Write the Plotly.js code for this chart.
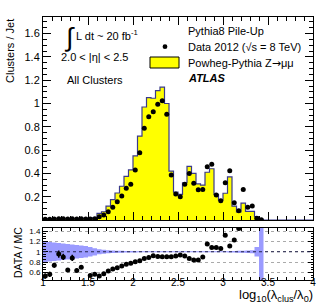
<!DOCTYPE html>
<html><head><meta charset="utf-8">
<script src="https://cdn.plot.ly/plotly-3.0.1.min.js"></script>
<style>html,body{margin:0;padding:0;background:#fff}</style>
</head><body>
<div id="plot" style="width:329px;height:305px"></div>
<script>
// Bin centres of log10(lambda_clus/lambda_0), bin width 0.05
const binCenters = [1.025,1.075,1.125,1.175,1.225,1.275,1.325,1.375,1.425,1.475,
1.525,1.575,1.625,1.675,1.725,1.775,1.825,1.875,1.925,1.975,
2.025,2.075,2.125,2.175,2.225,2.275,2.325,2.375,2.425,2.475,
2.525,2.575,2.625,2.675,2.725,2.775,2.825,2.875,2.925,2.975,
3.025,3.075,3.125,3.175,3.225,3.275,3.325,3.375,3.425,3.475,
3.525,3.575,3.625,3.675,3.725,3.775,3.825,3.875,3.925,3.975];
const halfWidth = 0.025;

// Powheg-Pythia Z->mumu (MC), clusters / jet
const mcValues = [0.012,0.012,0.012,0.012,0.012,0.013,0.013,0.013,0.014,0.015,
0.016,0.018,0.057,0.071,0.12,0.175,0.232,0.29,0.375,0.43,
0.55,0.72,0.97,1.05,1.045,1.11,1.14,1.0,0.42,0.24,
0.22,0.32,0.46,0.40,0.31,0.30,0.41,0.44,0.22,0.17,
0.23,0.37,0.12,0.07,0.145,0.075,0.075,0.03,0.005,0,
0,0,0,0,0,0,0,0,0,0];

// Data 2012
const dataValues = [0.006,0.007,0.009,0.011,0.011,0.008,0.011,0.008,0.01,0.008,
0.009,0.01,0.028,0.043,0.071,0.109,0.157,0.206,0.272,0.306,
0.43,0.578,0.787,0.887,0.93,0.993,1.024,0.907,0.386,0.223,
0.2,0.306,0.40,0.315,0.26,0.263,0.458,0.478,0.215,0.165,
0.32,0.423,0.149,0.08,0.263,0.109,0.12,0.015,0.003,null,
null,null,null,null,null,null,null,null,null,null];

// DATA / MC ratio
const ratioValues = [0.53,0.565,0.74,0.955,0.9,0.65,0.88,0.64,0.70,null,
0.54,0.565,0.53,0.577,0.63,0.667,0.69,0.725,0.757,0.777,
0.808,0.827,0.872,0.89,0.923,0.91,0.904,0.904,0.904,0.917,
0.936,0.917,0.872,0.84,0.84,0.9,1.148,1.084,1.08,1.065,
1.32,1.11,1.225,1.45,null,null,null,null,null,null,
null,null,null,null,null,null,null,null,null,null];
const ratioErrors = [0.05,0.05,0.05,0.07,0.06,0.03,0.06,0.03,0.03,0,
0.01,0.01,0.01,0.01,0.01,0.01,0.01,0.01,0.01,0.01,
0.01,0.01,0.01,0.01,0.01,0.01,0.01,0.01,0.01,0.01,
0.01,0.01,0.01,0.01,0.01,0.01,0.01,0.01,0.01,0.01,
0.01,0.01,0.01,0.01,0,0,0,0,0,0,
0,0,0,0,0,0,0,0,0,0];
// MC relative uncertainty (band half-width around 1)
const mcRelErr = [0.2,0.19,0.18,0.17,0.16,0.15,0.14,0.13,0.12,0.11,
0.09,0.07,0.05,0.04,0.03,0.025,0.02,0.018,0.015,0.013,
0.012,0.01,0.01,0.01,0.01,0.01,0.01,0.01,0.01,0.01,
0.01,0.01,0.01,0.01,0.01,0.01,0.01,0.01,0.01,0.01,
0.01,0.012,0.015,0.02,0.02,0.025,0.03,0.09,1.5,null,
null,null,null,null,null,null,null,null,null,null];

const xTickVals = [1,1.5,2,2.5,3,3.5,4];
const xTickText = ['1','1.5','2','2.5','3','3.5','4'];
const yTickVals = [0.2,0.4,0.6,0.8,1,1.2,1.4,1.6];
const yTickText = ['0.2','0.4','0.6','0.8','1','1.2','1.4','1.6'];
const rTickVals = [0.6,0.8,1,1.2,1.4];
const rTickText = ['0.6','0.8','1','1.2','1.4'];

// step helpers
function stepX(n){const e=[];for(let i=0;i<n;i++)e.push(binCenters[i]-halfWidth);e.push(binCenters[n-1]+halfWidth);return e;}
function stepY(arr,n){const y=arr.slice(0,n);y.push(arr[n-1]);return y;}

const nAll = binCenters.length;
const histX = stepX(nAll), histY = stepY(mcValues,nAll);
let nBand = 0; for(let i=0;i<nAll;i++){ if(mcRelErr[i]!==null) nBand=i+1; }
const bandX = stepX(nBand);
const bandLo = stepY(mcRelErr.map(e=>e===null?null:1-e),nBand);
const bandHi = stepY(mcRelErr.map(e=>e===null?null:1+e),nBand);

const traces = [
 {x:histX,y:histY,type:'scatter',mode:'lines',line:{shape:'hv',color:'#3a3a8a',width:1.2},
  fill:'tozeroy',fillcolor:'#ffff00',xaxis:'x',yaxis:'y',hoverinfo:'skip'},
 {x:binCenters,y:dataValues,type:'scatter',mode:'markers',marker:{color:'#000',size:5},xaxis:'x',yaxis:'y'},
 {x:bandX,y:bandLo,type:'scatter',mode:'lines',line:{shape:'hv',width:0,color:'rgba(0,0,0,0)'},xaxis:'x2',yaxis:'y2',hoverinfo:'skip'},
 {x:bandX,y:bandHi,type:'scatter',mode:'lines',line:{shape:'hv',width:0,color:'rgba(0,0,0,0)'},fill:'tonexty',fillcolor:'#9b9bff',xaxis:'x2',yaxis:'y2',hoverinfo:'skip'},
 {x:binCenters,y:ratioValues,type:'scatter',mode:'markers',marker:{color:'#000',size:5},
  error_y:{type:'data',array:ratioErrors,visible:true,color:'#000',thickness:1.5,width:0},xaxis:'x2',yaxis:'y2'}
];

const F = 'Liberation Sans, Arial, sans-serif';
function px(X){return (X-43)/270;}
function py(Y){return (280-Y)/263;}
const ann = (t,X,Y,opt)=>Object.assign({text:t,x:px(X),y:py(Y),xref:'paper',yref:'paper',showarrow:false,xanchor:'left',yanchor:'middle',font:{family:F,size:11,color:'#000'}},opt||{});

const layout = {
 width:329,height:305,margin:{l:43,r:16,t:17,b:25},
 paper_bgcolor:'#fff',plot_bgcolor:'#fff',showlegend:false,
 font:{family:F,color:'#000'},
 xaxis:{domain:[0,1],anchor:'y',range:[1,4],tickvals:xTickVals,showticklabels:false,ticks:'inside',ticklen:8,tickcolor:'#000',
   minor:{dtick:0.1,ticks:'inside',ticklen:4,tickcolor:'#000'},showline:true,linecolor:'#000',linewidth:1,mirror:'allticks',showgrid:false,zeroline:false},
 yaxis:{domain:[0.228,1],range:[0,1.742],tickvals:yTickVals,ticktext:yTickText,ticks:'inside',ticklen:8,tickcolor:'#000',
   minor:{dtick:0.05,ticks:'inside',ticklen:4,tickcolor:'#000'},showline:true,linecolor:'#000',linewidth:1,mirror:'allticks',showgrid:false,zeroline:false,
   tickfont:{family:F,size:11}},
 xaxis2:{domain:[0,1],anchor:'y2',range:[1,4],tickvals:xTickVals,ticktext:xTickText,ticks:'inside',ticklen:6,tickcolor:'#000',
   minor:{dtick:0.1,ticks:'inside',ticklen:3,tickcolor:'#000'},showline:true,linecolor:'#000',linewidth:1,mirror:'allticks',showgrid:false,zeroline:false,
   tickfont:{family:F,size:10},ticklabelstandoff:-7},
 yaxis2:{domain:[0,0.198],range:[0.455,1.46],tickvals:rTickVals,ticktext:rTickText,ticks:'inside',ticklen:5,tickcolor:'#000',
   minor:{dtick:0.05,ticks:'inside',ticklen:2.5,tickcolor:'#000'},showline:true,linecolor:'#000',linewidth:1,mirror:'allticks',
   showgrid:true,gridcolor:'#aaaaaa',griddash:'dot',gridwidth:1,zeroline:false,tickfont:{family:F,size:8}},
 shapes:[
  {type:'line',xref:'x2',yref:'y2',x0:1,x1:4,y0:1,y1:1,line:{color:'#22224a',width:1,dash:'dot'}},
  {type:'rect',xref:'paper',yref:'paper',x0:px(150),x1:px(179),y0:py(68),y1:py(57),fillcolor:'#ffff00',line:{color:'#000',width:1}},
  {type:'circle',xref:'paper',yref:'paper',x0:px(162.6),x1:px(167.4),y0:py(49.1),y1:py(44.3),fillcolor:'#000',line:{color:'#000',width:0}}
 ],
 annotations:[
  ann('Clusters / Jet',10,17,{xanchor:'center',yanchor:'top',textangle:-90,font:{family:F,size:11}}),
  ann('DATA / MC',18,253,{xanchor:'center',textangle:-90,font:{family:F,size:10.5}}),
  ann('log<sub>10</sub>(λ<sub>clus</sub>/λ<sub>0</sub>)',315,295,{xanchor:'right',font:{family:F,size:13}}),
  ann('∫',69,37,{xanchor:'center',font:{family:F,size:26}}),
  ann('L dt ~ 20 fb<sup>-1</sup>',74,35),
  ann('2.0 &lt; |η| &lt; 2.5',59,57),
  ann('All Clusters',65,80),
  ann('Pythia8 Pile-Up',186,31),
  ann('Data 2012 (√s = 8 TeV)',186,47),
  ann('Powheg-Pythia Z<span style="font-family:DejaVu Sans">→</span>μμ',186,63),
  ann('<b><i>ATLAS</i></b>',186,78)
 ]
};

Plotly.newPlot('plot',traces,layout,{staticPlot:true,displayModeBar:false});
</script>
</body></html>
